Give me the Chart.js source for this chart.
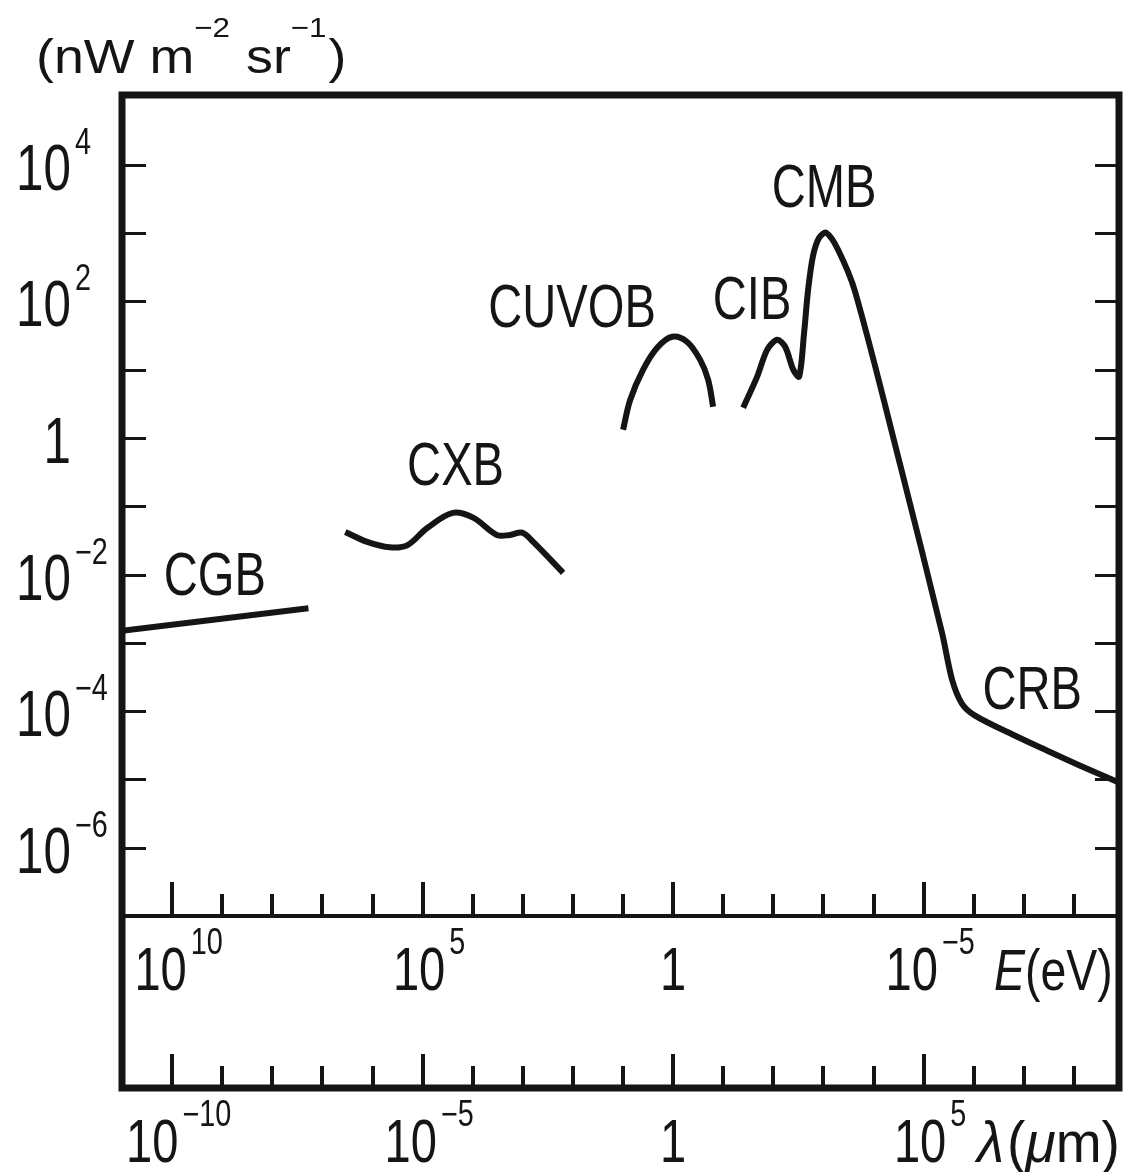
<!DOCTYPE html>
<html>
<head>
<meta charset="utf-8">
<title>Extragalactic background radiation</title>
<script src="https://cdn.jsdelivr.net/npm/chart.js@4.4.1/dist/chart.umd.min.js"></script>
<style>
  html, body { margin: 0; padding: 0; background: #fff; }
  #wrap { width: 1129px; height: 1172px; }
</style>
</head>
<body>
<div id="wrap"><canvas id="chart" width="1129" height="1172"></canvas></div>
<script>
// photon energy E (eV) and intensity (nW m^-2 sr^-1) for each background component
const cgbEnergy = [1e11, 1.9e7];
const cgbFlux = [1.5e-3, 3.2e-3];

const cxbEnergy = [3.5e6, 1.28e6, 4.5e5, 2.0e5, 8.1e4, 2.5e4, 9.8e3, 3.3e3, 1.8e3, 1.03e3, 620, 157];
const cxbFlux = [0.042, 0.030, 0.025, 0.027, 0.048, 0.080, 0.068, 0.038, 0.038, 0.041, 0.030, 0.0106];

const cuvobEnergy = [9.95, 7.2, 3.97, 2.08, 1.05, 0.53, 0.29, 0.20, 0.159];
const cuvobFlux = [1.32, 3.6, 10.0, 20.9, 30.3, 25.6, 14.0, 7.1, 2.86];

// CIB runs straight into the CMB peak and then the CRB tail
const cibEnergy = [0.040, 0.021, 0.0133, 8.4e-3, 5.8e-3, 4.0e-3, 3.05e-3, 2.43e-3, 2.02e-3, 1.61e-3, 1.22e-3, 8.8e-4, 5.1e-4, 2.33e-4, 2.94e-5, 4.3e-6, 2.7e-6, 1.71e-6, 9.4e-7, 1.64e-7, 3.4e-8, 7.5e-9, 1.37e-9];
const cibFlux = [2.77, 7.9, 19.5, 27.4, 21.6, 10.0, 7.9, 34.7, 148, 466, 853, 1009, 569, 138, 0.405, 1.41e-3, 2.88e-4, 1.28e-4, 8.6e-5, 4.5e-5, 2.63e-5, 1.59e-5, 9.25e-6];

const curveNames = ['CGB', 'CXB', 'CUVOB', 'CIB', 'CMB', 'CRB'];
// where each name sits, in E (eV) and intensity
const nameAnchorsE = [1.4e9, 2.2e4, 104, 0.0265, 9.7e-4, 6.8e-8];
const nameAnchorsI = [9.0e-3, 0.37, 75, 99, 4300, 1.9e-4];

const yTickDecades = [4, 3, 2, 1, 0, -1, -2, -3, -4, -5, -6];
const yLabelDecades = [4, 2, 0, -2, -4, -6];
const xTickDecades = [10, 9, 8, 7, 6, 5, 4, 3, 2, 1, 0, -1, -2, -3, -4, -5, -6, -7, -8];
const xLabelDecades = [10, 5, 0, -5];

const FONT = "'Liberation Sans', Arial, sans-serif";
const INK = '#151515';
const NARROW = 0.76;   // condensed look for the big labels

function pts(xs, ys) {
  return xs.map((x, i) => ({ x: x, y: ys[i] }));
}

function curve(xs, ys, tension) {
  return {
    data: pts(xs, ys),
    borderColor: INK,
    borderWidth: 6,
    pointRadius: 0,
    showLine: true,
    fill: false,
    borderJoinStyle: 'round',
    tension: tension
  };
}

// text squeezed horizontally by sx, drawn from its left edge
function narrowText(ctx, text, x, y, sx) {
  ctx.save();
  ctx.translate(x, y);
  ctx.scale(sx, 1);
  ctx.textAlign = 'left';
  ctx.fillText(text, 0, 0);
  ctx.restore();
  return ctx.measureText(text).width * sx;
}

function supText(exp) {
  return String(exp).replace('-', '\u2212');
}

// 10^n label; 'center' centres the whole thing, 'right' puts the base's right edge at x
function drawPower(ctx, exp, x, y, align, size) {
  const base = exp === 0 ? '1' : '10';
  const sup = exp === 0 ? '' : supText(exp);
  ctx.font = size + 'px ' + FONT;
  const bw = ctx.measureText(base).width * NARROW;
  ctx.font = '36px ' + FONT;
  const sw = sup ? ctx.measureText(sup).width * 0.8 + 3 : 0;
  const left = align === 'right' ? x - bw : x - (bw + sw) / 2;
  ctx.textBaseline = 'alphabetic';
  ctx.font = size + 'px ' + FONT;
  narrowText(ctx, base, left, y, NARROW);
  if (sup) {
    ctx.font = '36px ' + FONT;
    narrowText(ctx, sup, left + bw + 4, y - 36, 0.8);
  }
}

function drawRun(ctx, parts, x, y, sx) {
  ctx.textBaseline = 'alphabetic';
  parts.forEach(p => {
    ctx.font = p.font;
    x += narrowText(ctx, p.text, x, y + (p.dy || 0), sx) + (p.gap || 0);
  });
}

const framePlugin = {
  id: 'frame',
  afterDraw(chart) {
    const ctx = chart.ctx;
    const a = chart.chartArea;
    const xs = chart.scales.x;
    const ys = chart.scales.y;
    const panelBottom = a.bottom + 172;
    ctx.save();
    ctx.strokeStyle = INK;
    ctx.fillStyle = INK;
    ctx.lineCap = 'butt';

    // outer box
    ctx.lineWidth = 7;
    ctx.beginPath();
    ctx.moveTo(a.left, panelBottom);
    ctx.lineTo(a.left, a.top);
    ctx.lineTo(a.right, a.top);
    ctx.lineTo(a.right, panelBottom);
    ctx.closePath();
    ctx.stroke();
    // divider between the plot and the energy scale
    ctx.lineWidth = 4;
    ctx.beginPath();
    ctx.moveTo(a.left, a.bottom);
    ctx.lineTo(a.right, a.bottom);
    ctx.stroke();

    // intensity ticks, both sides
    ctx.lineWidth = 3;
    yTickDecades.forEach(d => {
      const py = Math.round(ys.getPixelForValue(Math.pow(10, d))) + 0.5;
      ctx.beginPath();
      ctx.moveTo(a.left, py);
      ctx.lineTo(a.left + 24, py);
      ctx.moveTo(a.right, py);
      ctx.lineTo(a.right - 24, py);
      ctx.stroke();
    });

    // energy ticks on the divider, wavelength ticks on the bottom
    ctx.lineWidth = 4;
    xTickDecades.forEach(d => {
      const px = Math.round(xs.getPixelForValue(Math.pow(10, d)));
      const len = xLabelDecades.includes(d) ? 34 : 22;
      ctx.beginPath();
      ctx.moveTo(px, a.bottom);
      ctx.lineTo(px, a.bottom - len);
      ctx.moveTo(px, panelBottom);
      ctx.lineTo(px, panelBottom - len);
      ctx.stroke();
    });

    yLabelDecades.forEach(d => {
      const py = ys.getPixelForValue(Math.pow(10, d));
      drawPower(ctx, d, 71, py + 25, 'right', 65);
    });

    xLabelDecades.forEach(d => {
      const px = xs.getPixelForValue(Math.pow(10, d));
      const shift = d === 0 ? 0 : 6;
      drawPower(ctx, d, px + shift, a.bottom + 74, 'center', 62);
      drawPower(ctx, -d, px + shift, panelBottom + 74, 'center', 62);
    });

    // axis titles
    drawRun(ctx, [
      { text: 'E', font: 'italic 58px ' + FONT },
      { text: '(eV)', font: '58px ' + FONT }
    ], 994, a.bottom + 74, 0.8);
    drawRun(ctx, [
      { text: '\u03bb', font: 'italic 58px ' + FONT, gap: 3 },
      { text: '(', font: '58px ' + FONT },
      { text: '\u03bc', font: 'italic 58px ' + FONT },
      { text: 'm)', font: '58px ' + FONT }
    ], 977, panelBottom + 74, 0.95);
    drawRun(ctx, [
      { text: '(nW m', font: '48px ' + FONT },
      { text: '\u22122', font: '28px ' + FONT, dy: -36, gap: 16 },
      { text: 'sr', font: '48px ' + FONT },
      { text: '\u22121', font: '28px ' + FONT, dy: -36, gap: 2 },
      { text: ')', font: '48px ' + FONT }
    ], 36, 73, 1.12);

    // component names
    ctx.font = '62px ' + FONT;
    ctx.textBaseline = 'middle';
    curveNames.forEach((name, i) => {
      const w = ctx.measureText(name).width * NARROW;
      narrowText(ctx, name, xs.getPixelForValue(nameAnchorsE[i]) - w / 2, ys.getPixelForValue(nameAnchorsI[i]), NARROW);
    });
    ctx.restore();
  }
};

new Chart(document.getElementById('chart'), {
  type: 'scatter',
  data: {
    datasets: [
      curve(cgbEnergy, cgbFlux, 0),
      curve(cxbEnergy, cxbFlux, 0.35),
      curve(cuvobEnergy, cuvobFlux, 0.35),
      curve(cibEnergy, cibFlux, 0.3)
    ]
  },
  options: {
    responsive: false,
    animation: false,
    devicePixelRatio: 1,
    layout: { padding: { left: 122, right: 10, top: 95, bottom: 256 } },
    plugins: { legend: { display: false }, tooltip: { enabled: false } },
    scales: {
      x: { type: 'logarithmic', reverse: true, min: 1.26e-9, max: 1e11, display: false },
      y: { type: 'logarithmic', min: 1e-7, max: 1.05e5, display: false }
    }
  },
  plugins: [framePlugin]
});
</script>
</body>
</html>
